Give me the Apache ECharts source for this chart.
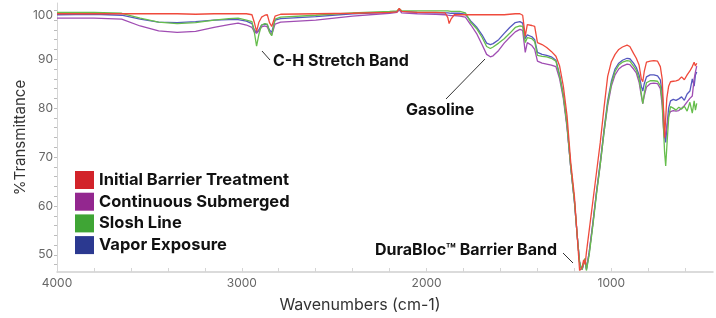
<!DOCTYPE html>
<html>
<head>
<meta charset="utf-8">
<script src="https://cdn.jsdelivr.net/npm/echarts@6/dist/echarts.min.js"></script>
<style>
html, body { margin: 0; padding: 0; background: #fff; }
#chart { width: 716px; height: 318px; }
</style>
</head>
<body>
<div id="chart"></div>
<script>
// FTIR spectra, wavenumber (cm-1) -> %T
const wavenumbers = [
	4000, 3800, 3650, 3550, 3450, 3350, 3250, 3150, 3070, 3020,
	2975, 2945, 2932, 2920, 2908, 2893, 2875, 2862, 2850, 2838,
	2820, 2790, 2600, 2400, 2200, 2160, 2148, 2135, 2050, 1950,
	1900, 1885, 1878, 1868, 1850, 1820, 1790, 1760, 1730, 1700,
	1675, 1655, 1640, 1610, 1580, 1550, 1520, 1495, 1480, 1466,
	1455, 1430, 1415, 1400, 1375, 1350, 1325, 1300, 1280, 1260,
	1240, 1220, 1200, 1185, 1172, 1165, 1158, 1150, 1142, 1135,
	1120, 1100, 1080, 1060, 1040, 1020, 1000, 980, 960, 940,
	915, 900, 880, 865, 850, 838, 830, 822, 810, 790,
	770, 750, 735, 725, 718, 712, 706, 700, 690, 680,
	665, 650, 635, 620, 605, 590, 575, 562, 552, 545,
	538
]
const initialBarrier = [
	99.3, 99.3, 99.3, 99.3, 99.3, 99.3, 99.2, 99.3, 99.3, 99.3,
	99.3, 99.1, 97.5, 95.7, 97.5, 98.6, 99.0, 99.1, 97.5, 96.7,
	98.8, 99.2, 99.3, 99.4, 99.6, 99.7, 100.4, 99.8, 99.6, 99.6,
	99.5, 98.5, 97.3, 98.2, 99.1, 99.1, 99.1, 99.1, 99.1, 99.1,
	99.1, 99.1, 99.1, 99.1, 99.1, 99.2, 99.3, 99.3, 99.0, 94.7,
	97.1, 96.9, 96.7, 93.4, 93.0, 92.4, 91.6, 90.6, 88.6, 84.5,
	78.5, 69.0, 62.0, 54.0, 46.8, 46.7, 47.5, 49.0, 48.0, 50.5,
	55.0, 61.0, 67.0, 73.0, 80.0, 86.5, 89.5, 91.0, 92.0, 92.5,
	92.9, 92.6, 91.2, 90.2, 88.8, 86.0, 85.4, 87.5, 89.4, 89.6,
	89.7, 89.6, 88.5, 86.0, 80.0, 74.0, 78.0, 82.0, 84.5, 85.4,
	85.5, 85.6, 85.8, 86.4, 85.8, 86.8, 87.6, 88.5, 89.4, 88.6,
	89.2
]
const continuousSubmerged = [
	98.4, 98.4, 98.2, 96.8, 95.8, 95.5, 95.7, 96.5, 97.1, 97.4,
	97.0, 96.5, 95.6, 95.3, 95.8, 96.6, 96.8, 96.6, 95.6, 95.0,
	97.2, 97.6, 98.0, 98.8, 99.4, 99.6, 100.1, 99.5, 99.3, 99.2,
	99.1, 99.0, 99.0, 98.9, 98.9, 98.8, 98.6, 97.0, 95.3, 93.0,
	91.0, 90.5, 90.7, 91.8, 93.3, 94.5, 95.6, 96.1, 95.9, 91.4,
	93.4, 92.8, 92.0, 89.6, 89.2, 89.0, 88.8, 88.5, 86.0, 82.0,
	76.0, 68.0, 61.0, 54.0, 48.5, 47.5, 47.0, 48.3, 49.0, 47.2,
	50.5, 56.5, 63.0, 68.5, 75.0, 80.5, 84.5, 86.8, 88.0, 88.6,
	89.0, 88.9, 88.0, 87.2, 85.3, 82.5, 80.9, 82.5, 84.3, 85.0,
	85.1, 85.0, 84.0, 80.5, 76.0, 73.8, 73.5, 76.0, 78.5, 79.3,
	79.5, 79.4, 79.5, 80.0, 80.5, 81.3, 82.0, 82.5, 86.0, 87.4,
	88.6
]
const sloshLine = [
	99.6, 99.6, 99.4, 98.4, 97.6, 97.3, 97.5, 98.0, 98.3, 98.4,
	98.0, 97.7, 95.5, 92.7, 95.0, 97.0, 97.3, 97.2, 95.5, 94.8,
	98.2, 98.6, 99.0, 99.5, 99.8, 99.9, 100.3, 99.9, 99.9, 99.9,
	99.9, 99.9, 99.9, 99.8, 99.8, 99.8, 99.5, 97.5, 96.3, 94.5,
	92.6, 92.2, 92.5, 93.3, 94.2, 95.3, 96.5, 96.8, 96.7, 93.4,
	94.4, 94.2, 93.6, 90.8, 90.6, 90.5, 90.2, 89.6, 86.5, 82.5,
	76.5, 68.0, 61.0, 54.0, 48.5, 47.5, 47.0, 48.5, 49.3, 46.8,
	50.0, 56.0, 62.5, 68.5, 75.0, 81.0, 85.0, 87.5, 88.8, 89.4,
	89.7, 89.6, 88.6, 87.8, 86.0, 83.0, 80.9, 83.0, 85.2, 85.6,
	85.6, 85.5, 84.6, 81.5, 76.0, 71.0, 68.2, 72.0, 78.0, 80.3,
	80.0, 79.6, 80.2, 79.8, 80.4, 79.4, 81.2, 79.0, 81.5, 79.6,
	81.0
]
const vaporExposure = [
	99.1, 99.2, 99.0, 98.2, 97.6, 97.5, 97.7, 98.0, 98.1, 98.1,
	97.8, 97.3, 96.0, 95.5, 96.0, 97.0, 97.2, 97.0, 96.0, 95.5,
	98.0, 98.3, 98.7, 99.3, 99.6, 99.8, 100.3, 99.8, 99.6, 99.5,
	99.5, 99.5, 99.5, 99.4, 99.4, 99.4, 99.2, 97.8, 96.6, 95.0,
	93.3, 93.0, 93.2, 94.0, 95.3, 96.5, 97.5, 97.7, 97.4, 94.2,
	95.0, 94.6, 94.0, 91.4, 91.0, 90.8, 90.5, 89.8, 86.8, 82.8,
	76.5, 68.0, 61.0, 54.0, 48.5, 47.5, 47.0, 48.3, 49.0, 47.0,
	50.5, 56.5, 63.0, 69.0, 75.5, 81.5, 85.5, 88.0, 89.2, 89.8,
	90.2, 90.1, 89.2, 88.3, 86.8, 84.5, 83.5, 85.0, 86.4, 86.8,
	86.8, 86.6, 85.8, 83.0, 79.3, 74.5, 73.0, 76.0, 80.0, 81.5,
	81.8, 81.6, 81.9, 82.3, 81.6, 82.9, 83.5, 86.0, 84.5, 86.8,
	87.4
]

const seriesNames = ['Initial Barrier Treatment', 'Continuous Submerged', 'Slosh Line', 'Vapor Exposure']
const legendColors = ['#d2232a', '#93278f', '#3fa535', '#2b3990']
const lineColors = ['#ef4a3c', '#a04db3', '#66be4c', '#5558bf']

const xLabelValues = [1000, 2000, 3000, 4000]
const xTickValues = [600, 800, 1000, 1200, 1400, 1600, 1800, 2000, 2200, 2400, 2600, 2800, 3000, 3200, 3400, 3600, 3800, 4000]
const yLabelValues = [50, 60, 70, 80, 90, 100]
const yTickValues = [48, 50, 52, 54, 56, 58, 60, 62, 64, 66, 68, 70, 72, 74, 76, 78, 80, 82, 84, 86, 88, 90, 92, 94, 96, 98, 100]

const FONT = 'Inter, "DejaVu Sans", sans-serif'
const noteFont = 'bold 16px ' + FONT

function toPairs(values) {
	return wavenumbers.map((w, i) => [w, values[i]])
}

const spectra = [initialBarrier, continuousSubmerged, sloshLine, vaporExposure]
// draw order: red last so it sits on top
const drawOrder = [3, 1, 2, 0]

const chart = echarts.init(document.getElementById('chart'), null, { renderer: 'canvas' })

chart.setOption({
	animation: false,
	grid: { left: 57, right: 3, top: 3, bottom: 43 },
	legend: {
		orient: 'vertical',
		left: 75,
		top: 171,
		padding: 0,
		icon: 'rect',
		itemWidth: 19,
		itemHeight: 18,
		itemGap: 3.7,
		selectedMode: false,
		textStyle: { fontSize: 16.5, lineHeight: 18, fontWeight: 'bold', color: '#111', fontFamily: FONT },
		data: seriesNames.map((name, i) => ({ name, itemStyle: { color: legendColors[i] } })),
	},
	xAxis: {
		type: 'value',
		inverse: true,
		min: 450,
		max: 4000,
		name: 'Wavenumbers (cm-1)',
		nameLocation: 'middle',
		nameGap: 25,
		nameTextStyle: { fontSize: 16, color: '#333', fontFamily: FONT, padding: [0, 50, 0, 0] },
		axisLine: { lineStyle: { color: '#cfcfcf', width: 1.5 } },
		axisTick: { show: true, inside: true, length: 4, customValues: xTickValues, lineStyle: { color: '#d5d5d5' } },
		axisLabel: {
			customValues: xLabelValues,
			formatter: (v) => String(v),
			color: '#666',
			fontSize: 12,
			margin: 5,
			fontFamily: FONT,
		},
		splitLine: { show: false },
	},
	yAxis: {
		type: 'value',
		min: 46.5,
		max: 101.5,
		name: '%Transmittance',
		nameLocation: 'middle',
		nameGap: 29,
		nameMoveOverlap: false,
		nameTextStyle: { fontSize: 15, color: '#333', fontFamily: FONT },
		axisLine: { show: true, lineStyle: { color: '#d5d5d5', width: 1 } },
		axisTick: { show: true, length: 3, customValues: yTickValues, lineStyle: { color: '#bbb' } },
		axisLabel: {
			customValues: yLabelValues,
			// the top label sits a little low in the original
			formatter: (v) => (v === 100 ? '{top|100}' : String(v)),
			rich: { top: { padding: [10, 0, 0, 0], color: '#666', fontSize: 12, fontFamily: FONT } },
			color: '#666',
			fontSize: 12,
			margin: 4,
			fontFamily: FONT,
		},
		splitLine: { show: false },
	},
	graphic: [
		{ type: 'text', left: 273, top: 53, style: { text: 'C-H Stretch Band', font: noteFont, fill: '#111' } },
		{ type: 'line', shape: { x1: 262, y1: 51, x2: 270, y2: 60 }, style: { stroke: '#333', lineWidth: 1 } },
		{ type: 'text', left: 406, top: 102, style: { text: 'Gasoline', font: noteFont, fill: '#111' } },
		{ type: 'line', shape: { x1: 446, y1: 99, x2: 485, y2: 59 }, style: { stroke: '#333', lineWidth: 1 } },
		{ type: 'text', left: 375, top: 242, style: { text: 'DuraBloc™ Barrier Band', font: noteFont, fill: '#111' } },
		{ type: 'line', shape: { x1: 563, y1: 253, x2: 573, y2: 263 }, style: { stroke: '#333', lineWidth: 1 } },
	],
	series: drawOrder.map((i) => ({
		name: seriesNames[i],
		type: 'line',
		showSymbol: false,
		symbol: 'none',
		data: toPairs(spectra[i]),
		itemStyle: { color: legendColors[i] },
		lineStyle: { color: lineColors[i], width: 1.3 },
		emphasis: { disabled: true },
	})),
})
</script>
</body>
</html>
